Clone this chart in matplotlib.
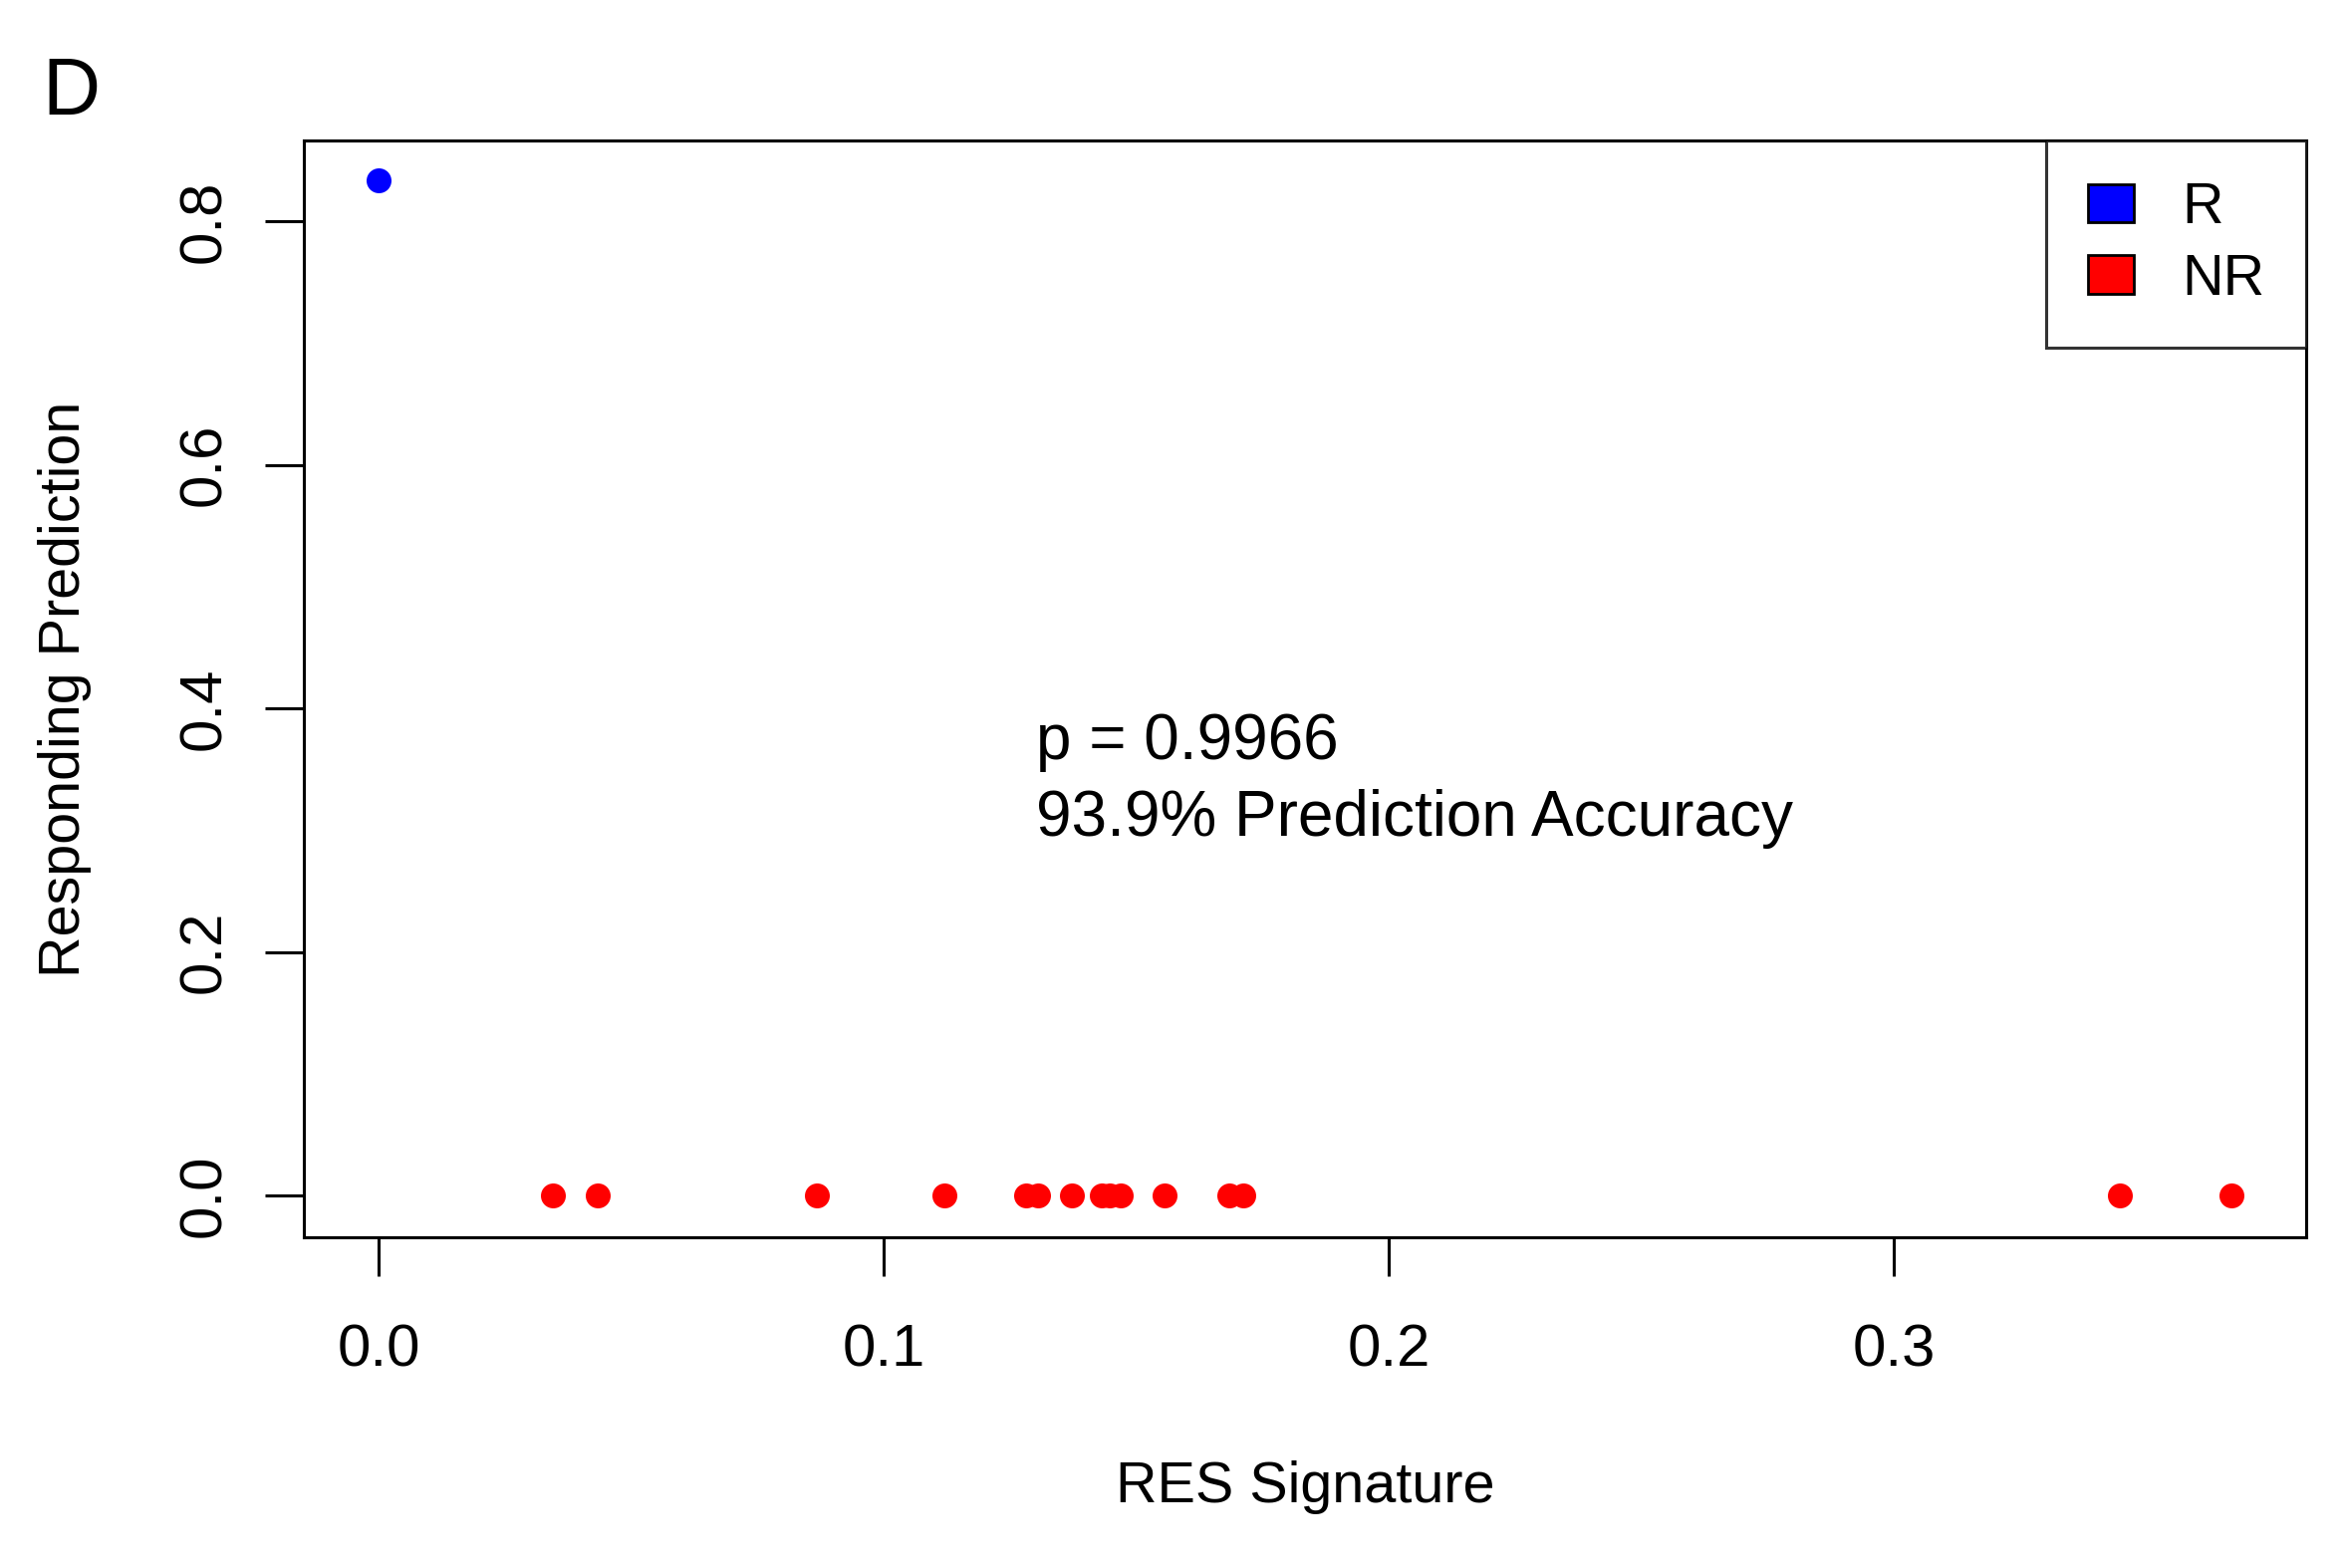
import matplotlib
matplotlib.use("Agg")
import matplotlib.pyplot as plt
import matplotlib.patches as mpatches

plt.rcParams['font.family'] = ['Liberation Sans', 'DejaVu Sans']

# RES signature score vs responding prediction
r_x = [0.0]
r_y = [0.834]
nr_x = [0.0345, 0.0433, 0.0867, 0.1121, 0.1283, 0.1305, 0.1372, 0.1431,
        0.1447, 0.1470, 0.1557, 0.1685, 0.1713, 0.3447, 0.3669]
nr_y = [0.0] * len(nr_x)

x_ticks = [0.0, 0.1, 0.2, 0.3]
y_ticks = [0.0, 0.2, 0.4, 0.6, 0.8]
legend_labels = ['R', 'NR']
legend_colors = ['#0000ff', '#ff0000']

fig = plt.figure(figsize=(11.76, 7.87), dpi=200)
ax = fig.add_axes([0.1297, 0.2109, 0.9843 - 0.1297, 0.9104 - 0.2109])

ax.plot(r_x, r_y, 'o', color='#0000ff', ms=9.0, mec='none')
ax.plot(nr_x, nr_y, 'o', color='#ff0000', ms=9.0, mec='none')

ax.set_xlim(-0.0148, 0.3817)
ax.set_ylim(-0.0344, 0.8663)
ax.set_xticks(x_ticks)
ax.set_xticklabels([f'{v:.1f}' for v in x_ticks])
ax.set_yticks(y_ticks)
ax.set_yticklabels([f'{v:.1f}' for v in y_ticks], rotation=90, va='center')
ax.tick_params(direction='out', length=14, width=1.1, labelsize=21.5, pad=17)
ax.tick_params(axis='y', pad=12)
for s in ax.spines.values():
    s.set_linewidth(1.1)

ax.set_xlabel('RES Signature', fontsize=20.7, labelpad=30)
ax.set_ylabel('Responding Prediction', fontsize=20.7, labelpad=31)

ax.text(0.1302, 0.372, 'p = 0.9966', fontsize=23, va='center', ha='left')
ax.text(0.1302, 0.309, '93.9% Prediction Accuracy', fontsize=23, va='center', ha='left')

handles = [mpatches.Patch(facecolor=c, edgecolor='black', lw=1.0) for c in legend_colors]
leg = ax.legend(handles, legend_labels, loc='upper right', fontsize=20.7,
                frameon=True, fancybox=False, borderaxespad=0, borderpad=0.72,
                handlelength=0.8, handleheight=0.65, handletextpad=0.85,
                labelspacing=0.3)
leg.get_frame().set_edgecolor('black')
leg.get_frame().set_linewidth(1.1)

fig.text(0.018, 0.940, 'D', fontsize=29, va='center', ha='left')

fig.savefig('out.png', dpi=200, facecolor='white')
